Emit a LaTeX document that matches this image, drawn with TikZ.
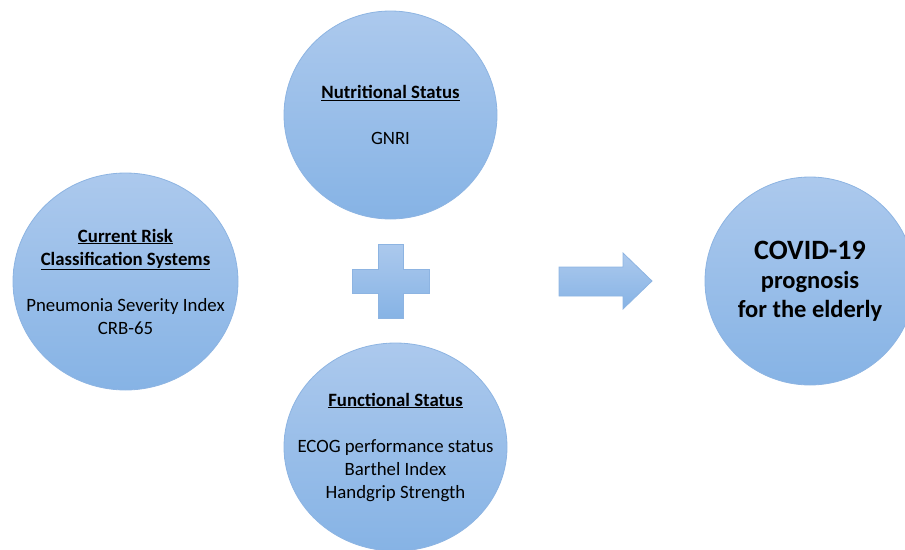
\documentclass[tikz,border=0pt]{standalone}
\usepackage{fontspec}
\setmainfont{Carlito}
\usetikzlibrary{shapes.geometric}
\definecolor{ctop}{RGB}{172,201,237}
\definecolor{cbot}{RGB}{134,179,229}
\definecolor{cline}{RGB}{141,180,226}
\tikzset{
  bubble/.style={ellipse, inner sep=0pt, outer sep=0pt, top color=ctop, bottom color=cbot,
    draw=cline, line width=0.8pt},
  btext/.style={align=center, inner sep=0pt, font=\fontsize{18.8}{23}\selectfont},
  symb/.style={top color=ctop, bottom color=cbot, draw=cline, line width=0.8pt}
}
\begin{document}
\begin{tikzpicture}[x=1pt,y=-1pt]
\useasboundingbox (0,0) rectangle (905,549);
\node[bubble, minimum width=225pt, minimum height=217pt] (risk) at (125.5,281.5) {};
\node[btext] (risktxt) at (risk.center)
  {\underline{\textbf{Current Risk}}\\ \underline{\textbf{Classification Systems}}\\[23pt]
   Pneumonia Severity Index\\ CRB-65};
\node[bubble, minimum width=213pt, minimum height=208pt] (nutr) at (390.5,115) {};
\node[btext] (nutrtxt) at (nutr.center)
  {\underline{\textbf{Nutritional Status}}\\[23pt] GNRI};
\node[bubble, minimum width=223pt, minimum height=208pt] (func) at (395.5,447) {};
\node[btext] (functxt) at (func.center)
  {\underline{\textbf{Functional Status}}\\[23pt] ECOG performance status\\ Barthel Index\\ Handgrip Strength};
\node[bubble, minimum width=210pt, minimum height=208pt] (covid) at (810,281) {};
\node[btext, font=\bfseries\fontsize{24.5}{29}\selectfont] (covidtxt) at (covid.center)
  {{\fontsize{28}{29}\selectfont COVID-19}\\ prognosis\\ for the elderly};
% plus sign
\draw[symb] (378,244) -- (403,244) -- (403,269) -- (429,269) -- (429,293) -- (403,293)
  -- (403,318) -- (378,318) -- (378,293) -- (352,293) -- (352,269) -- (378,269) -- cycle;
% block arrow
\draw[symb] (559,267) -- (623,267) -- (623,253) -- (652,281) -- (623,309) -- (623,296)
  -- (559,296) -- cycle;
\end{tikzpicture}
\end{document}
